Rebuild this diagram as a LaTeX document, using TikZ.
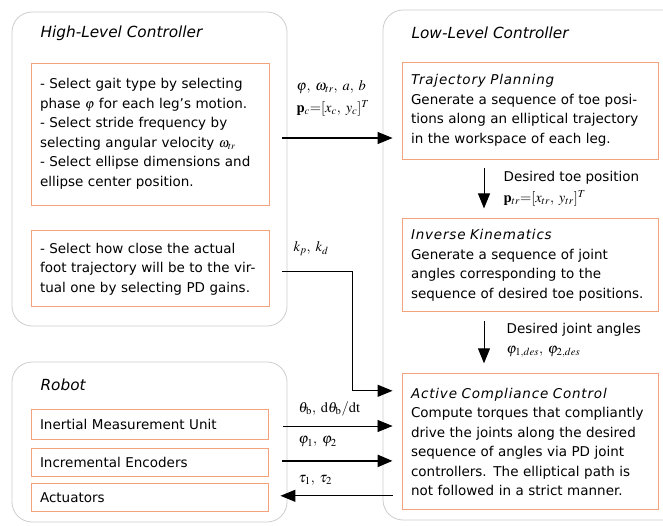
\documentclass[tikz,border=0pt]{standalone}
\usepackage{amsmath}
\usepackage{mathptmx}
\usepackage[no-math]{fontspec}
\setmainfont{DejaVu Sans}
\newfontfamily\headfont[LetterSpace=6]{DejaVu Sans}
\usetikzlibrary{arrows.meta, positioning, calc}
\definecolor{boxorange}{RGB}{244,162,124}
\definecolor{groupgray}{RGB}{205,205,205}
\newcommand{\boxhead}[1]{{\headfont\itshape #1}}

\begin{document}
\begin{tikzpicture}[
  x=1pt, y=1pt,
  font=\fontsize{13.5}{19.5}\selectfont,
  group/.style={draw=groupgray, rounded corners=20pt, line width=0.8pt},
  block/.style={rectangle, draw=boxorange, line width=0.9pt, text width=220pt, inner xsep=9pt, inner ysep=0pt, align=left},
  wblock/.style={block, text width=238pt},
  title/.style={font=\fontsize{15.3}{18}\selectfont\itshape, anchor=west, inner sep=0pt},
  lbl/.style={font=\fontsize{14.5}{16}\selectfont, anchor=west, inner sep=0pt},
  note/.style={anchor=west, inner sep=0pt},
  >={Triangle[length=15pt, width=12pt]},
  line width=1.2pt
]
  \useasboundingbox (0,0) rectangle (663,525);

  % containers
  \draw[group] (12,199) rectangle (287,513);
  \draw[group] (383,5) rectangle (690,515);
  \draw[group] (12,3) rectangle (287,163);

  \node[title] (hltitle) at (40,492) {High-Level Controller};
  \node[title] (lltitle) at (411,492) {Low-Level Controller};
  \node[title] (robtitle) at (40,140) {Robot};

  % high-level controller
  \node[block, minimum height=142pt] (gait) at (150,391)
    {- Select gait type by selecting\\
     phase $\varphi$ for each leg's motion.\\
     - Select stride frequency by\\
     selecting angular velocity $\omega_{tr}$\\
     - Select ellipse dimensions and\\
     ellipse center position.};
  \node[block, minimum height=76pt, below=25pt of gait] (gains)
    {- Select how close the actual\\
     \mbox{foot trajectory will be to the vir-}\\
     tual one by selecting PD gains.};

  % low-level controller
  \node[wblock, minimum height=97pt] (traj) at (530,414.5)
    {\boxhead{Trajectory Planning}\\
     Generate a sequence of toe posi-\\
     \mbox{tions along an elliptical trajectory}\\
     in the workspace of each leg.};
  \node[wblock, minimum height=93pt, below=59pt of traj] (ik)
    {\boxhead{Inverse Kinematics}\\
     Generate a sequence of joint\\
     angles corresponding to the\\
     \mbox{sequence of desired toe positions.}};
  \node[wblock, minimum height=136pt, below=61pt of ik] (acc)
    {\boxhead{Active Compliance Control}\\
     Compute torques that compliantly\\
     drive the joints along the desired\\
     sequence of angles via PD joint\\
     controllers. The elliptical path is\\
     not followed in a strict manner.};

  % robot
  \node[block, text width=219pt, minimum height=30pt] (imu) at (149.5,101) {Inertial Measurement Unit};
  \node[block, text width=219pt, minimum height=28pt, below=9pt of imu] (enc) {Incremental Encoders};
  \node[block, text width=219pt, minimum height=28pt, below=6pt of enc] (act) {Actuators};

  % signals between levels
  \draw[->, shorten <=13pt, shorten >=9pt] ([yshift=-4pt]gait.east) -- ([yshift=-4pt]gait.east -| traj.west);
  \node[lbl] (params) at (296,438) {$\varphi,\; \omega_{tr},\; a,\; b$};
  \node[lbl] (center) at (296,417) {$\mathbf{p}_c{=}[x_c,\; y_c]^T$};

  \draw[->, shorten <=13pt, shorten >=9pt] ([yshift=-3pt]gains.east) -- ++(83,0) |- ([yshift=51pt]acc.west);
  \node[lbl] (gainlbl) at (293,276) {$k_p,\; k_d$};

  \draw[->, line width=0.7pt, shorten <=15pt, shorten >=9pt] ([yshift=-2pt]imu.east) -- ([yshift=-2pt]imu.east -| acc.west);
  \node[lbl] (imulbl) at (298,116) {$\theta_\mathrm{b},\; \mathrm{d}\theta_\mathrm{b}/\mathrm{dt}$};

  \draw[->, line width=2.4pt, shorten <=14pt, shorten >=9pt] ([yshift=2pt]enc.east) -- ([yshift=2pt]enc.east -| acc.west);
  \node[lbl] (enclbl) at (298,83) {$\varphi_1,\; \varphi_2$};

  \draw[<-, shorten <=12pt, shorten >=9pt] ([yshift=2pt]act.east) -- ([yshift=2pt]act.east -| acc.west);
  \node[lbl] (actlbl) at (298,45) {$\tau_1,\; \tau_2$};

  % inside low-level controller
  \draw[->, line width=1pt, shorten <=9pt, shorten >=10pt] ([xshift=-46pt]traj.south) -- ([xshift=-46pt]ik.north);
  \node[note] (toelbl) at (503,347) {Desired toe position};
  \node[lbl] (toevec) at (503,327) {$\mathbf{p}_{tr}{=}[x_{tr},\; y_{tr}]^T$};

  \draw[->, line width=1pt, shorten <=9pt, shorten >=10pt] ([xshift=-46pt]ik.south) -- ([xshift=-46pt]acc.north);
  \node[note] (jointlbl) at (506,195) {Desired joint angles};
  \node[lbl] (jointvec) at (506,173) {$\varphi_{1,des},\; \varphi_{2,des}$};
\end{tikzpicture}
\end{document}
